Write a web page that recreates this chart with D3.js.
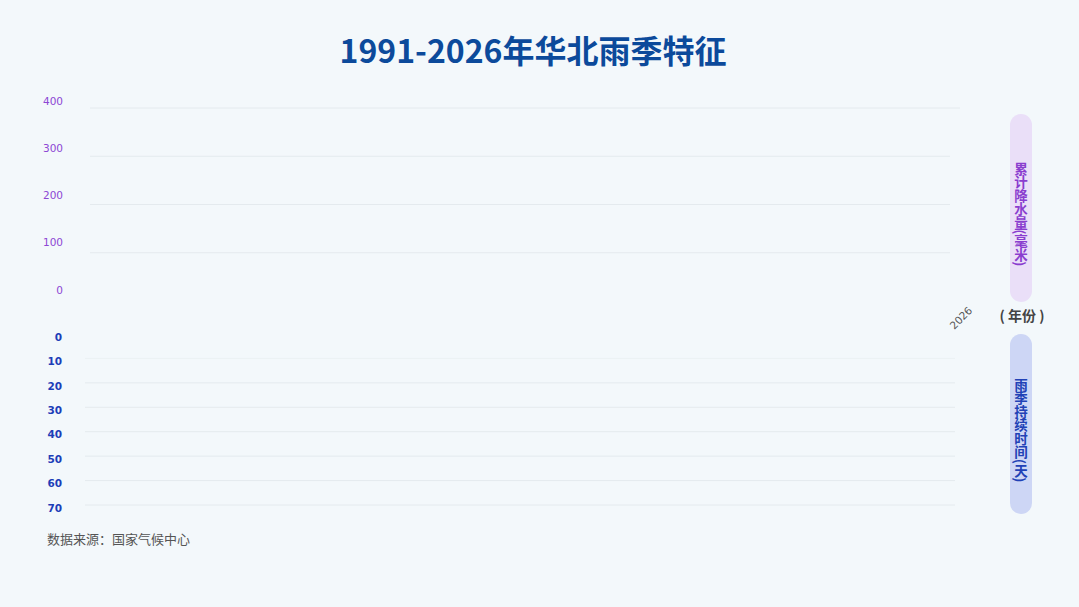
<!DOCTYPE html>
<html>
<head>
<meta charset="utf-8">
<script src="https://cdn.jsdelivr.net/npm/d3@7"></script>
<style>
  html, body { margin: 0; padding: 0; background: #f3f8fb; }
  svg { display: block; font-family: "Noto Sans CJK SC", "Noto Sans", sans-serif; }
</style>
</head>
<body>
<div id="chart"></div>
<script>
// ---- data ----
const years = [
  '1991', '1992', '1993', '1994', '1995', '1996', '1997', '1998', '1999', '2000',
  '2001', '2002', '2003', '2004', '2005', '2006', '2007', '2008', '2009', '2010',
  '2011', '2012', '2013', '2014', '2015', '2016', '2017', '2018', '2019', '2020',
  '2021', '2022', '2023', '2024', '2025', '2026'
];
const shownYears = ['2026'];
const rainTicks = [0, 100, 200, 300, 400];
const dayTicks = [0, 10, 20, 30, 40, 50, 60, 70];

const titleText = '1991-2026年华北雨季特征';
const rainLabel = '累计降水量(毫米)';
const dayLabel = '雨季持续时间(天)';
const yearLabel = '( 年份 )';
const sourceText = '数据来源：国家气候中心';

// ---- layout ----
const width = 1079, height = 607;

const svg = d3.select('#chart').append('svg')
  .attr('width', width)
  .attr('height', height);

svg.append('rect')
  .attr('width', width).attr('height', height)
  .attr('fill', '#f3f8fb');

// Title
svg.append('text')
  .attr('x', 533).attr('y', 63)
  .attr('text-anchor', 'middle')
  .style('font-size', '32px')
  .style('font-weight', 700)
  .style('fill', '#0c4a9b')
  .text(titleText);

// Scales
const x = d3.scalePoint().domain(years).range([90, 955]);
const yRain = d3.scaleLinear().domain([0, 400]).range([301, 108]);
const yRainLab = d3.scaleLinear().domain([0, 400]).range([290, 101]);
const yDay = d3.scaleLinear().domain([0, 70]).range([334, 505]);
const yDayLab = d3.scaleLinear().domain([0, 70]).range([337, 508]);

// Grid lines (upper: precipitation)
svg.append('g')
  .selectAll('line')
  .data(rainTicks.filter(d => d > 0))
  .join('line')
  .attr('x1', 90).attr('x2', d => d === 400 ? 960 : 950)
  .attr('y1', d => yRain(d)).attr('y2', d => yRain(d))
  .attr('stroke', '#e4eaee')
  .attr('stroke-width', 1);

// Grid lines (lower: duration)
svg.append('g')
  .selectAll('line')
  .data(dayTicks.filter(d => d > 0))
  .join('line')
  .attr('x1', 85).attr('x2', 955)
  .attr('y1', d => yDay(d)).attr('y2', d => yDay(d))
  .attr('stroke', d => d === 10 ? '#ecf1f4' : '#e4eaee')
  .attr('stroke-width', 1);

// Tick labels
svg.append('g')
  .selectAll('text')
  .data(rainTicks)
  .join('text')
  .attr('x', 63)
  .attr('y', d => yRainLab(d))
  .attr('dy', '0.35em')
  .attr('text-anchor', 'end')
  .style('font-family', '"DejaVu Sans", sans-serif')
  .style('font-size', '10.5px')
  .style('fill', '#8d47d4')
  .text(d => d);

svg.append('g')
  .selectAll('text')
  .data(dayTicks)
  .join('text')
  .attr('x', 62)
  .attr('y', d => yDayLab(d))
  .attr('dy', '0.35em')
  .attr('text-anchor', 'end')
  .style('font-family', '"DejaVu Sans", sans-serif')
  .style('font-size', '10.5px')
  .style('font-weight', 600)
  .style('fill', '#1d3eb8')
  .text(d => d);

// Year labels (only the visible one)
svg.append('g')
  .selectAll('text')
  .data(shownYears)
  .join('text')
  .attr('transform', d => `translate(${x(d) + 6},${318}) rotate(-45)`)
  .attr('text-anchor', 'middle')
  .attr('dy', '0.35em')
  .style('font-family', '"DejaVu Sans", sans-serif')
  .style('font-size', '10.5px')
  .style('fill', '#555')
  .text(d => d);

// Right side axis title pills
const pills = [
  { text: rainLabel, y0: 114, y1: 302, fill: '#eadff8', color: '#8a3dcf' },
  { text: dayLabel, y0: 334, y1: 514, fill: '#cdd6f5', color: '#2141b6' }
];

pills.forEach(p => {
  svg.append('rect')
    .attr('x', 1010).attr('y', p.y0)
    .attr('width', 22).attr('height', p.y1 - p.y0)
    .attr('rx', 11)
    .attr('fill', p.fill);
  svg.append('text')
    .attr('x', 1021)
    .attr('y', (p.y0 + p.y1) / 2 + 6)
    .attr('text-anchor', 'middle')
    .style('writing-mode', 'vertical-rl')
    .style('font-size', '13.5px')
    .style('font-weight', 700)
    .style('fill', p.color)
    .text(p.text);
});

svg.append('text')
  .attr('x', 1022).attr('y', 316)
  .attr('dy', '0.35em')
  .attr('text-anchor', 'middle')
  .style('font-size', '14px')
  .style('font-weight', 700)
  .style('fill', '#444')
  .text(yearLabel);

// Source
svg.append('text')
  .attr('x', 47).attr('y', 544)
  .style('font-size', '13px')
  .style('fill', '#555')
  .text(sourceText);
</script>
</body>
</html>
